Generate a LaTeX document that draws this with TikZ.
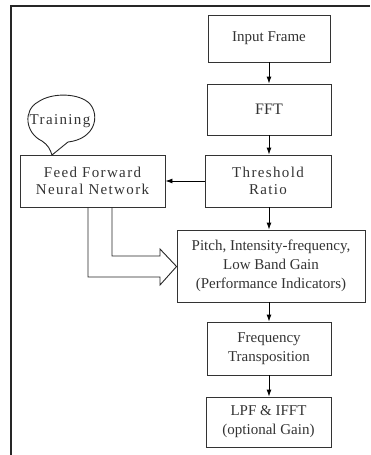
\documentclass[tikz,border=0pt]{standalone}
\usepackage{fontspec}
\setmainfont{Liberation Serif}
\newfontfamily\spacedfont[LetterSpace=9]{Liberation Serif}
\usetikzlibrary{arrows.meta}
\begin{document}
\begin{tikzpicture}[x=1pt,y=-1pt,
  box/.style={draw=black!80, line width=0.9pt, rectangle, inner sep=0pt, align=center,
    text=black!80, font=\fontsize{15}{19}\selectfont},
  sbox/.style={box, font=\fontsize{15}{17.5}\selectfont\spacedfont},
  flow/.style={draw=black, line width=0.9pt, -{Latex[length=7pt,width=5pt]}}]
\useasboundingbox (0,0) rectangle (370,455);
\draw[line width=2.2pt, black!85] (11,455) -- (11,6) -- (370,6);

\node[box, minimum width=122pt, minimum height=47pt] (inp) at (269,38.5) {Input Frame};
\node[box, minimum width=124pt, minimum height=51pt] (fft) at (269,109.5) {\fontsize{16}{19}\selectfont FFT};
\node[sbox, minimum width=126pt, minimum height=52pt] (thr) at (268,181) {Threshold\\Ratio};
\node[sbox, minimum width=145pt, minimum height=52pt] (nn) at (92.5,181) {Feed Forward\\Neural Network};
\node[box, minimum width=188pt, minimum height=72pt] (pit) at (271,266) {Pitch, Intensity-frequency,\\Low Band Gain\\(Performance Indicators)};
\node[box, minimum width=124pt, minimum height=53pt] (frq) at (269,348.5) {Frequency\\Transposition};
\node[box, minimum width=125pt, minimum height=50pt] (lpf) at (268.5,422) {LPF \& IFFT\\(optional Gain)};

\draw[flow] (inp.south) -- (inp.south |- fft.north);
\draw[flow] (fft.south) -- (fft.south |- thr.north);
\draw[flow] (thr.south -| fft.south) -- (fft.south |- pit.north);
\draw[flow] (pit.south -| fft.south) -- (fft.south |- frq.north);
\draw[flow] (frq.south) -- (frq.south |- lpf.north);
\draw[flow] (thr.west) -- (nn.east);

% hollow arrow
\draw[black!85, line width=0.9pt] (nn.south -| 88,0) -- (88,277) -- (160,277) -- (160,285) -- (pit.west |- 0,266.5) -- (160,249) -- (160,256) -- (112,256) -- (nn.south -| 112,0);

% training callout
\draw[black!85, line width=0.9pt] (52,155) .. controls (50,149) and (48,145) .. (42,141)
  .. controls (25,133) and (23,110) .. (38,102)
  .. controls (52,92) and (80,93) .. (90,104)
  .. controls (100,116) and (95,139) .. (68,142) -- cycle;
\node[text=black!80, font=\fontsize{15}{17}\selectfont\spacedfont, inner sep=0pt] (trn) at (60,121) {Training};
\end{tikzpicture}
\end{document}
